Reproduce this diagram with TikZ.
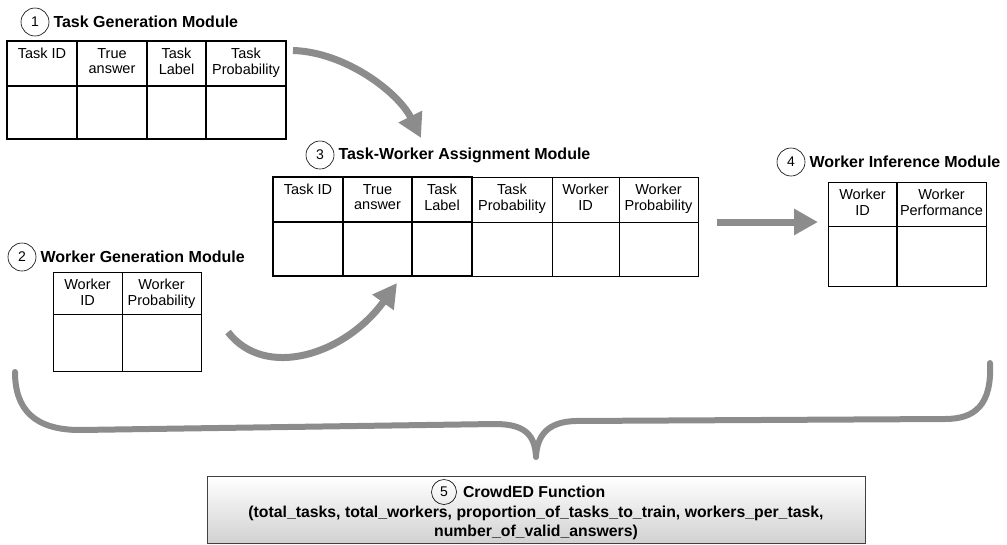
\documentclass[tikz,border=0pt]{standalone}
\usepackage{fontspec}
\setmainfont{Liberation Sans}
\usepackage{tikz}
\usetikzlibrary{positioning,arrows.meta}

\begin{document}
\begin{tikzpicture}
[x=1pt,y=-1pt,
num/.style={circle,draw,line width=0.6pt,minimum size=28pt,inner sep=0pt,font=\fontsize{14}{16}\selectfont},
ttl/.style={inner sep=0pt,font=\bfseries\fontsize{16}{18}\selectfont},
hcell/.style={draw,rectangle,inner sep=0pt,outer sep=0pt,line width=0.8pt},
thk/.style={line width=1.7pt},
htxt/.style={anchor=north,align=center,inner sep=0pt,yshift=-7pt,font=\fontsize{14.5}{15.5}\selectfont},
bigarr/.style={draw=black!45,line width=7pt,-{Triangle[width=25pt,length=24pt]}},
brc/.style={draw=black!45,line width=6pt,line cap=round,line join=round},
fbox/.style={draw=black!75,line width=0.8pt,top color=white,bottom color=black!18,inner sep=0pt},
args/.style={align=center,inner sep=0pt,font=\bfseries\fontsize{15.8}{18.5}\selectfont}]

\useasboundingbox (0,0) rectangle (1007,544);

\node[num] (n1) at (35,22) {1};
\node[ttl,right=4pt of n1] (h1) {Task Generation Module};
\node[hcell,thk,minimum width=70pt,minimum height=45pt,anchor=north west,label={[htxt]north:Task ID}] (t1a) at (7,41) {};
\node[hcell,thk,minimum width=70pt,minimum height=45pt,right=0pt of t1a,label={[htxt]north:{True\\answer}}] (t1b) {};
\node[hcell,thk,minimum width=59pt,minimum height=45pt,right=0pt of t1b,label={[htxt]north:{Task\\Label}}] (t1c) {};
\node[hcell,thk,minimum width=80pt,minimum height=45pt,right=0pt of t1c,label={[htxt]north:{Task\\Probability}}] (t1d) {};
\node[hcell,thk,minimum width=70pt,minimum height=53pt,below=0pt of t1a] (u1a) {};
\node[hcell,thk,minimum width=70pt,minimum height=53pt,below=0pt of t1b] (u1b) {};
\node[hcell,thk,minimum width=59pt,minimum height=53pt,below=0pt of t1c] (u1c) {};
\node[hcell,thk,minimum width=80pt,minimum height=53pt,below=0pt of t1d] (u1d) {};

\node[num] (n2) at (22,257) {2};
\node[ttl,right=4pt of n2] (h2) {Worker Generation Module};
\node[hcell,minimum width=69pt,minimum height=42pt,anchor=north west,label={[htxt]north:{Worker\\ID}}] (t2a) at (53,272) {};
\node[hcell,minimum width=79pt,minimum height=42pt,right=0pt of t2a,label={[htxt]north:{Worker\\Probability}}] (t2b) {};
\node[hcell,minimum width=69pt,minimum height=57pt,below=0pt of t2a] (u2a) {};
\node[hcell,minimum width=79pt,minimum height=57pt,below=0pt of t2b] (u2b) {};

\node[num] (n3) at (320,155) {3};
\node[ttl,right=4pt of n3] (h3) {Task-Worker Assignment Module};
\node[hcell,thk,minimum width=70pt,minimum height=45pt,anchor=north west,label={[htxt]north:Task ID}] (t3a) at (273,177) {};
\node[hcell,thk,minimum width=69pt,minimum height=45pt,right=0pt of t3a,label={[htxt]north:{True\\answer}}] (t3b) {};
\node[hcell,thk,minimum width=60pt,minimum height=45pt,right=0pt of t3b,label={[htxt]north:{Task\\Label}}] (t3c) {};
\node[hcell,minimum width=80pt,minimum height=45pt,right=0pt of t3c,label={[htxt]north:{Task\\Probability}}] (t3d) {};
\node[hcell,minimum width=67pt,minimum height=45pt,right=0pt of t3d,label={[htxt]north:{Worker\\ID}}] (t3e) {};
\node[hcell,minimum width=79pt,minimum height=45pt,right=0pt of t3e,label={[htxt]north:{Worker\\Probability}}] (t3f) {};
\node[hcell,thk,minimum width=70pt,minimum height=54pt,below=0pt of t3a] (u3a) {};
\node[hcell,thk,minimum width=69pt,minimum height=54pt,below=0pt of t3b] (u3b) {};
\node[hcell,thk,minimum width=60pt,minimum height=54pt,below=0pt of t3c] (u3c) {};
\node[hcell,minimum width=80pt,minimum height=54pt,below=0pt of t3d] (u3d) {};
\node[hcell,minimum width=67pt,minimum height=54pt,below=0pt of t3e] (u3e) {};
\node[hcell,minimum width=79pt,minimum height=54pt,below=0pt of t3f] (u3f) {};

\node[num] (n4) at (791,162) {4};
\node[ttl,right=4pt of n4] (h4) {Worker Inference Module};
\node[hcell,minimum width=69pt,minimum height=44pt,anchor=north west,label={[htxt]north:{Worker\\ID}}] (t4a) at (828,182) {};
\node[hcell,minimum width=89pt,minimum height=44pt,right=0pt of t4a,label={[htxt]north:{Worker\\Performance}}] (t4b) {};
\node[hcell,minimum width=69pt,minimum height=60pt,below=0pt of t4a] (u4a) {};
\node[hcell,minimum width=89pt,minimum height=60pt,below=0pt of t4b] (u4b) {};
\draw[line width=1.5pt] (t4a.north east) -- (u4a.south east);

\node[fbox,minimum width=658pt,minimum height=67pt,anchor=north west] (crowd) at (207,476) {};
\node[num,minimum size=25pt] (n5) at (444,492) {5};
\node[ttl,right=6pt of n5,font=\bfseries\fontsize{15.8}{18}\selectfont] (h5) {CrowdED Function};
\node[args] (a5) at (536,523) {(total\_tasks, total\_workers, proportion\_of\_tasks\_to\_train, workers\_per\_task,\\number\_of\_valid\_answers)};

\coordinate (a1s) at ([xshift=7pt,yshift=13pt]t1d.east);
\coordinate (a1e) at (421,138);
\draw[bigarr] (a1s) .. controls (345,52) and (398,92) .. (a1e);
\coordinate (a2s) at (228,332);
\coordinate (a2e) at ([xshift=-15pt,yshift=-7pt]u3b.south east);
\draw[bigarr] (a2s) .. controls (265,380) and (345,355) .. (a2e);
\coordinate (a3s) at ([xshift=19pt]t3f.south east);
\coordinate (a3e) at ([xshift=-10pt]t3f.south east -| t4a.west);
\draw[bigarr] (a3s) -- (a3e);

\draw[brc] (15,372) .. controls (15,410) and (35,430) .. (80,430) -- (495,424)
  .. controls (525,424) and (535,435) .. (536,457)
  .. controls (537,435) and (548,422) .. (575,421) -- (945,419)
  .. controls (975,419) and (992,405) .. (990,363);
\end{tikzpicture}
\end{document}
